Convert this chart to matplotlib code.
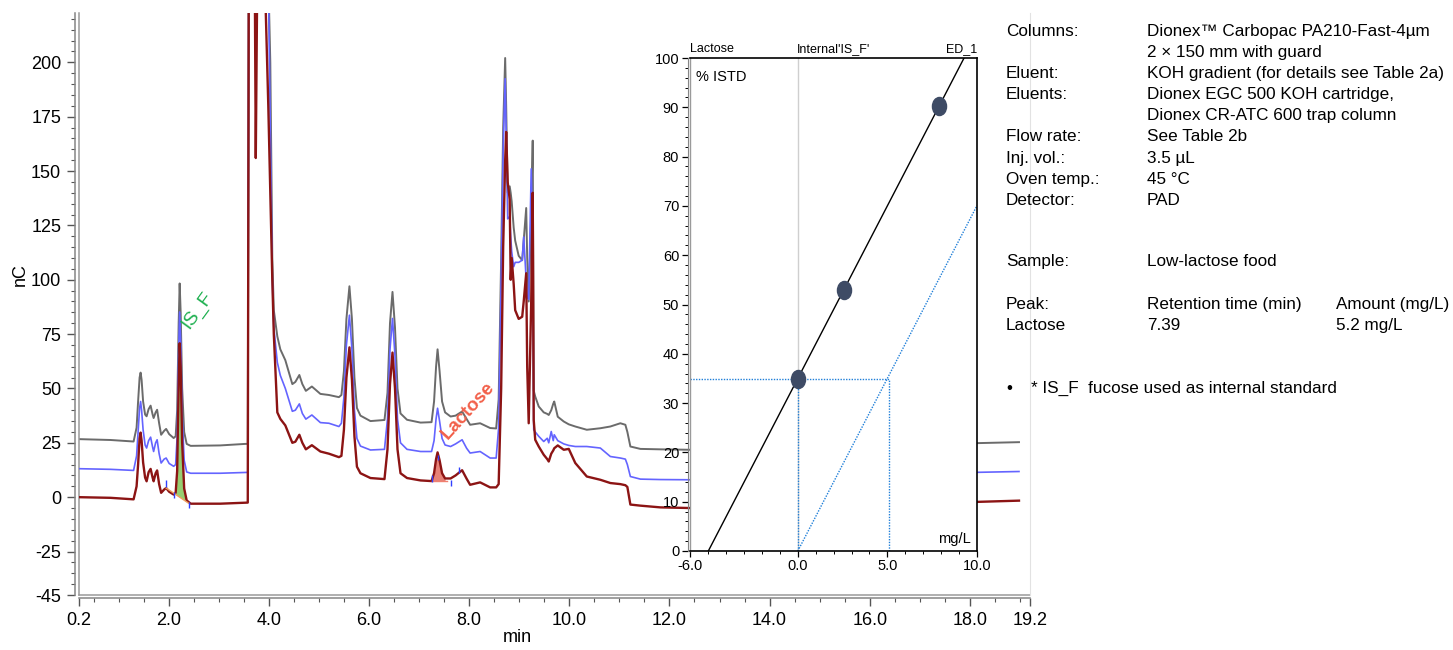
import numpy as np
import matplotlib
matplotlib.use('Agg')
from matplotlib import pyplot as plt
from matplotlib.ticker import MultipleLocator
from matplotlib.path import Path
from matplotlib.transforms import Affine2D

plt.rcParams['font.family'] = ['Liberation Sans', 'DejaVu Sans']
plt.rcParams['axes.unicode_minus'] = False

W, H = 1453, 650

# chromatogram (min, nC)
times = [0.20, 0.84, 1.30, 1.36, 1.39, 1.42, 1.44, 1.46, 1.49, 1.53, 1.56, 1.60, 1.64, 1.68,
         1.70, 1.74, 1.77, 1.81, 1.85, 1.91, 1.95, 2.01, 2.10, 2.14, 2.17, 2.20, 2.22, 2.24,
         2.27, 2.31, 2.36, 2.44, 3.03, 3.53, 3.58, 3.60, 3.72, 3.74, 3.77, 3.92, 3.99, 4.03,
         4.07, 4.10, 4.17, 4.23, 4.33, 4.47, 4.53, 4.61, 4.67, 4.74, 4.86, 5.03, 5.20, 5.40,
         5.45, 5.50, 5.55, 5.61, 5.66, 5.71, 5.76, 5.83, 6.03, 6.31, 6.37, 6.42, 6.47, 6.52,
         6.57, 6.63, 6.76, 7.03, 7.25, 7.30, 7.34, 7.37, 7.41, 7.46, 7.52, 7.63, 7.73, 7.86,
         7.95, 8.02, 8.22, 8.42, 8.54, 8.59, 8.64, 8.68, 8.72, 8.74, 8.77, 8.81, 8.83, 8.85,
         8.89, 8.92, 8.99, 9.06, 9.09, 9.14, 9.16, 9.19, 9.24, 9.27, 9.29, 9.32, 9.39, 9.49,
         9.56, 9.59, 9.64, 9.68, 9.70, 9.77, 9.89, 9.99, 10.12, 10.35, 10.62, 10.82, 11.02,
         11.12, 11.16, 11.22, 11.42, 11.82, 12.42, 18.10, 18.98]
grey_trace = [26.7, 26.3, 25.6, 32, 44, 55, 57.3, 54, 44, 38, 37.2, 40.5, 42.1, 38,
              36.4, 39, 40.2, 34, 28.7, 30.5, 31.4, 29, 27.2, 28, 40, 80, 98.3, 85,
              50, 30, 24.5, 23.6, 23.8, 24.5, 24.5, 240, 240, 240, 240, 240, 240, 200,
              110, 86, 74, 68, 63, 52, 53, 56.2, 52, 48.9, 50.9, 47.5, 47, 46,
              47, 58, 82, 97, 82, 55, 41, 37.5, 35, 35.5, 48, 80, 94.4, 78,
              50, 38.5, 35.6, 34.3, 34.5, 44, 60, 68, 58, 44, 39, 37.1, 37.5, 39.4,
              36, 33.3, 34, 31.8, 31.6, 45, 110, 170, 202, 180, 140, 143, 140, 136,
              124, 118, 111, 109, 118, 133, 110, 90, 130, 164, 49, 46.3, 41.7, 39,
              38.3, 37.8, 40, 43, 44, 37, 34.8, 33.5, 32.5, 31, 31.7, 32.5, 34,
              33.3, 30, 23.3, 22.2, 22, 21.8, 24.8, 25.3]
blue_trace = [13.1, 12.8, 12.3, 19, 30, 41, 44, 40, 31, 24, 22.6, 26, 27.6, 23,
              21, 25, 26.4, 20, 15.7, 17.5, 18, 15.5, 14.2, 15, 28, 68, 85.2, 72,
              38, 17, 11.6, 11.0, 11.0, 11.4, 11.4, 240, 240, 240, 240, 240, 240, 170,
              100, 78, 62, 56, 50, 39.5, 40, 42.9, 38.5, 35.9, 37.8, 34.3, 34, 32.5,
              34, 46, 70, 83.7, 68, 40, 27, 23.5, 21.7, 22, 36, 68, 82.2, 65,
              36, 25, 22, 21, 21, 26, 36, 40.9, 35, 27, 24, 23.3, 24.5, 26.4,
              22.5, 20.3, 21, 18, 18, 32, 100, 160, 192.5, 168, 128, 129, 120, 113,
              106, 108, 108, 109, 119.7, 100, 92, 91, 151, 120, 31, 30, 28, 25.6,
              27.1, 25, 30.2, 26, 28.7, 26, 24.5, 23.8, 23.3, 23.3, 22.6, 18.7, 18,
              17.5, 15, 9.5, 8.3, 8.1, 8.0, 11.4, 11.8]
red_trace = [0.0, -0.3, -1.0, 5, 15, 27, 29.7, 26, 16, 9, 7.3, 11.5, 13, 9,
             7.3, 11, 12.3, 6, 2, 3.5, 4.2, 2.5, 1.2, 2, 12, 52, 70.8, 60,
             25, 4, -1.5, -3, -3, -2.5, -2.5, 240, 240, 156, 240, 240, 180, 140,
             100, 75, 39, 36, 33, 25, 25.5, 28.7, 25, 22, 23.9, 21, 20, 18.4,
             19, 31, 55, 68.9, 54, 28, 14, 11, 8.8, 8.3, 22, 52, 66.5, 50,
             22, 11, 8.8, 7.7, 7.4, 11, 17.5, 20.6, 17, 11, 8.6, 8.6, 10, 12.4,
             8.5, 5.7, 6.8, 4.5, 4.5, 6, 50, 115, 155, 168, 145, 137, 100, 110,
             98, 86, 82, 83, 90, 103, 60, 34, 90, 140, 35.5, 26.4, 23.3, 19.5,
             17.5, 16.4, 20, 21.5, 22.5, 23.8, 21.8, 22.2, 15.7, 9.5, 8, 6.5, 6,
             5.5, 4.7, -3.4, -3.9, -4.7, -5.0, -2.2, -1.6]

# integrated peaks: window and baseline ends (min, nC)
isf_window = (2.14, 2.36)
isf_baseline = ([1.95, 2.40], [4.2, -2.8])
lac_window = (7.25, 7.52)
lac_baseline = ([7.25, 7.55], [7.4, 7.4])
# peak delimiter marks
mark_times = [1.95, 2.10, 2.40, 7.25, 7.37, 7.63, 7.79]
mark_lo = [4.5, -0.5, -5.0, 7.0, 17.0, 5.0, 11.0]
mark_hi = [8.0, 2.5, -2.0, 10.0, 19.5, 8.0, 14.0]

# calibration (mg/L added vs % ISTD)
cal_amount = [0.0, 2.55, 7.9]
cal_istd = [34.9, 53.0, 90.3]
sample_amount = 5.1
sample_istd = 34.9

info_rows = [
    ("Columns:", "Dionex\u2122 Carbopac PA210-Fast-4\u00b5m"),
    ("", "2 \u00d7 150 mm with guard"),
    ("Eluent:", "KOH gradient (for details see Table 2a)"),
    ("Eluents:", "Dionex EGC 500 KOH cartridge,"),
    ("", "Dionex CR-ATC 600 trap column"),
    ("Flow rate:", "See Table 2b"),
    ("Inj. vol.:", "3.5 \u00b5L"),
    ("Oven temp.:", "45 \u00b0C"),
    ("Detector:", "PAD"),
]

fig = plt.figure(figsize=(W / 100, H / 100), dpi=100)

def box(l, t, r, b):
    return [l / W, 1 - b / H, (r - l) / W, (b - t) / H]

# ---- chromatogram ----
ax = fig.add_axes(box(78.5, 13, 1030, 595))
t = np.array(times)
red = np.array(red_trace)
ax.plot(t, grey_trace, color='#6b6b6b', lw=1.4, zorder=2)
ax.plot(t, blue_trace, color='#6464ff', lw=1.2, zorder=3)
ax.plot(t, red, color='#8c1414', lw=1.7, zorder=4)

bl = np.interp(t, *isf_baseline)
ax.fill_between(t, red, bl, where=(t >= isf_window[0]) & (t <= isf_window[1]),
                color='#8cc862', alpha=0.9, lw=0, zorder=3.5)
ax.plot(*isf_baseline, color='#f0a060', lw=1, zorder=4.5)
bl2 = np.interp(t, *lac_baseline)
ax.fill_between(t, red, bl2, where=(t >= lac_window[0]) & (t <= lac_window[1]),
                color='#e57368', alpha=0.9, lw=0, zorder=3.5)
ax.plot(*lac_baseline, color='#f08070', lw=1, zorder=4.5)
ax.vlines(mark_times, mark_lo, mark_hi, color='#3040ff', lw=1, zorder=5)

ax.text(2.47, 76, 'IS_F', color='#1fb050', fontsize=14, rotation=54,
        rotation_mode='anchor', ha='left', va='bottom', zorder=6)
ax.text(7.64, 25, 'Lactose', color='#f2604a', fontsize=13.5, fontweight='bold',
        rotation=48, rotation_mode='anchor', ha='left', va='bottom', zorder=6)

ax.set_xlim(0.2, 19.2)
ax.set_ylim(-45, 222.7)
xt = [0.2] + list(range(2, 20, 2)) + [19.2]
xt = [v for v in xt if v <= 19.2]
ax.set_xticks(xt)
ax.set_xticklabels(['%.1f' % v for v in xt])
ax.set_yticks([-45, -25, 0, 25, 50, 75, 100, 125, 150, 175, 200])
ax.xaxis.set_minor_locator(MultipleLocator(0.5))
ax.yaxis.set_minor_locator(MultipleLocator(5))
ax.tick_params(which='major', length=6, width=1, color='#555555', labelsize=13, pad=4)
ax.tick_params(which='minor', length=3, width=0.8, color='#555555')
ax.spines['top'].set_visible(False)
ax.spines['right'].set_color('#e2e2e2')
ax.spines['right'].set_linewidth(0.8)
for s in ('left', 'bottom'):
    ax.spines[s].set_position(('outward', 2.5))
    ax.spines[s].set_color('#858585')
    ax.spines[s].set_linewidth(1.1)
ax.plot([0, 0], [0, 1], transform=ax.transAxes, color='#9a9a9a', lw=1.1, clip_on=False)
ax.plot([0, 1], [0, 0], transform=ax.transAxes, color='#9a9a9a', lw=1.1, clip_on=False)
fig.text(20 / W, 1 - 275 / H, 'nC', fontsize=13, rotation=90, ha='center', va='center')
fig.text(517 / W, 1 - 638 / H, 'min', fontsize=13, ha='center', va='center')

# ---- calibration inset ----
axi = fig.add_axes(box(690.3, 58, 977, 551))
axi.set_facecolor('white')
axi.set_xlim(-6, 10)
axi.set_ylim(0, 100)
slope, icept = np.polyfit(cal_amount, cal_istd, 1)
x0 = -icept / slope
x1 = (100 - icept) / slope
axi.axvline(0, color='#cfcfcf', lw=1, zorder=1)
axi.plot([x0, x1], [0, 100], color='black', lw=1, zorder=3)
dot = dict(color='#1f7fd8', lw=1, ls=(0, (1, 1)), zorder=2)
axi.plot([-6, sample_amount], [sample_istd, sample_istd], **dot)
axi.plot([0, 0], [0, sample_istd], **dot)
axi.plot([sample_amount, sample_amount], [0, sample_istd], **dot)
axi.plot([0, 10], [0, slope * 10], **dot)
ellipse = Path.unit_circle().transformed(Affine2D().scale(0.78, 1.0))
axi.plot(cal_amount, cal_istd, ls='none', marker=ellipse, ms=13,
         color='#3e4b65', zorder=5)

axi.set_xticks([-6, 0, 5, 10])
axi.set_xticklabels(['-6.0', '0.0', '5.0', '10.0'])
axi.set_yticks(range(0, 101, 10))
axi.xaxis.set_minor_locator(MultipleLocator(1))
axi.yaxis.set_minor_locator(MultipleLocator(2))
axi.tick_params(which='major', length=4, width=0.9, labelsize=10.5, pad=2)
axi.tick_params(which='minor', length=2, width=0.7)
for s in ('top', 'right', 'bottom'):
    axi.spines[s].set_color('black')
    axi.spines[s].set_linewidth(1.2)
axi.spines['left'].set_position(('outward', 2))
axi.spines['left'].set_color('#858585')
axi.plot([0, 0], [0, 1], transform=axi.transAxes, color='#9a9a9a', lw=1, clip_on=False)
axi.text(0, 1.006, 'Lactose', transform=axi.transAxes, fontsize=9, ha='left', va='bottom')
axi.text(0.5, 1.006, "Internal'IS_F'", transform=axi.transAxes, fontsize=9,
         ha='center', va='bottom')
axi.text(1, 1.006, 'ED_1', transform=axi.transAxes, fontsize=9, ha='right', va='bottom')
axi.text(0.02, 0.975, '% ISTD', transform=axi.transAxes, fontsize=10.5, ha='left', va='top')
axi.text(0.98, 0.01, 'mg/L', transform=axi.transAxes, fontsize=10.5, ha='right',
         va='bottom')

# ---- method text ----
def put(x, y, s, **kw):
    fig.text(x / W, 1 - y / H, s, fontsize=12.3, va='baseline', ha='left', **kw)

y = 36
for lab, val in info_rows:
    put(1006, y, lab)
    put(1147, y, val)
    y += 21.1
put(1006, 266, 'Sample:')
put(1147, 266, 'Low-lactose food')
put(1006, 309, 'Peak:')
put(1147, 309, 'Retention time (min)')
put(1336, 309, 'Amount (mg/L)')
put(1006, 330, 'Lactose')
put(1147, 330, '7.39')
put(1336, 330, '5.2 mg/L')
put(1006, 393, '\u2022')
put(1031, 393, '* IS_F  fucose used as internal standard')

fig.savefig('out.png', dpi=100)
